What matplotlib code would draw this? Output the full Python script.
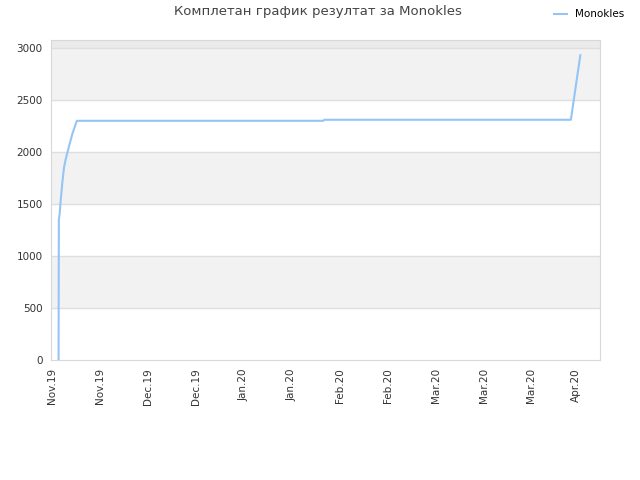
import numpy as np
import pandas as pd
import matplotlib
matplotlib.use('Agg')
import matplotlib.pyplot as plt
import matplotlib.dates as mdates

# score history
dates = pd.to_datetime([
    '2019-11-11 22:00', '2019-11-12 00:00', '2019-11-12 06:00', '2019-11-12 12:00',
    '2019-11-13 00:00', '2019-11-13 12:00', '2019-11-14 00:00', '2019-11-15 00:00',
    '2019-11-16 00:00', '2019-11-17 06:00', '2020-01-28 06:00', '2020-01-28 12:00',
    '2020-04-09 12:00', '2020-04-12 06:00',
])
scores = [0, 1350, 1410, 1520, 1700, 1850, 1930, 2060, 2180, 2300, 2300, 2310, 2310, 2930]

tick_dates = list(pd.date_range('2019-11-10', periods=11, freq='14D')) + [pd.Timestamp('2020-04-11')]
tick_labels = [d.strftime('%b.%y') for d in tick_dates]

title = 'Комплетан график резултат за Monokles'
name = 'Monokles'

fig = plt.figure(figsize=(6.4, 4.8), dpi=100)
ax = fig.add_axes([51/640, 1 - 360/480, 549/640, 320/480])

ymax = 3077
ax.set_ylim(0, ymax)
ax.set_xlim(pd.Timestamp('2019-11-09 17:00'), pd.Timestamp('2020-04-18 00:00'))

# alternating bands
for lo in range(0, 3000, 500):
    if (lo // 500) % 2 == 1:
        ax.axhspan(lo, lo + 500, color='#f2f2f2', zorder=0, lw=0)
ax.axhspan(3000, ymax, color='#ebebeb', zorder=0, lw=0)
for y in range(500, 3001, 500):
    ax.axhline(y, color='#dedede', lw=1, zorder=1)

ax.plot(dates, scores, color='#94c5f5', lw=1.5, zorder=3, label=name)

ax.set_yticks(range(0, 3001, 500))
ax.set_xticks(tick_dates)
ax.set_xticklabels(tick_labels, rotation=90)
ax.tick_params(length=0, labelsize=7.5, colors='#333333', pad=6)
for s in ax.spines.values():
    s.set_color('#d8d8d8')

fig.text(0.497, 0.975, title, ha='center', va='center', fontsize=9.5, color='#444444')
fig.legend(loc='upper right', bbox_to_anchor=(0.99, 1.0), frameon=False,
           fontsize=7.5, handlelength=1.2, handletextpad=0.8)

fig.savefig('out.png', dpi=100)
